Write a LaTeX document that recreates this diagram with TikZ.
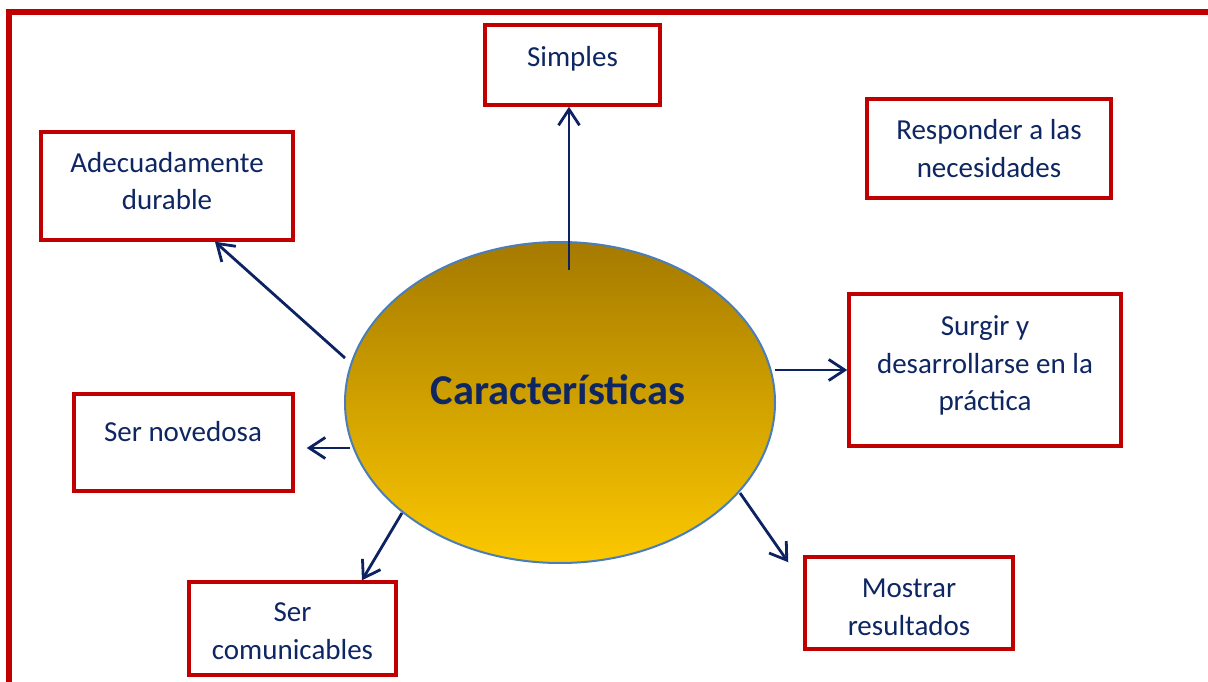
\documentclass[tikz,border=0pt]{standalone}
\usepackage{fontspec}
\setmainfont{Carlito}
\usetikzlibrary{shapes.geometric,arrows.meta,calc}
\definecolor{boxred}{RGB}{192,0,0}
\definecolor{navy}{RGB}{12,34,98}
\definecolor{txtblue}{RGB}{14,38,98}
\definecolor{goldtop}{RGB}{165,122,0}
\definecolor{goldbot}{RGB}{252,200,0}
\definecolor{ellborder}{RGB}{74,126,187}
\begin{document}
\begin{tikzpicture}[x=1pt,y=-1pt,
  box/.style={draw=boxred, line width=3.5pt, rectangle, inner sep=0pt},
  lbl/.style={text=txtblue, align=center, font=\fontsize{29}{37.5}\selectfont, inner sep=0pt},
  arr/.style={draw=navy, line width=2.8pt, -{Straight Barb[length=16pt,width=21pt]}}]
\useasboundingbox (0,0) rectangle (1208,682);
\fill[white] (0,0) rectangle (1208,682);
% outer frame
\draw[boxred, line width=6pt] (9,720) -- (9,12.5) -- (1240,12.5);

% boxes
\node[box, minimum width=175pt, minimum height=80pt]  (simples)  at (572.5,65) {};
\node[box, minimum width=252pt, minimum height=108pt] (adec)     at (167,186) {};
\node[box, minimum width=244pt, minimum height=99pt]  (resp)     at (989,148.5) {};
\node[box, minimum width=272pt, minimum height=152pt] (surgir)   at (985,370) {};
\node[box, minimum width=219pt, minimum height=97pt]  (novedosa) at (183.5,442.5) {};
\node[box, minimum width=208pt, minimum height=92pt]  (mostrar)  at (909,603) {};
\node[box, minimum width=207pt, minimum height=93pt]  (comun)    at (292.5,628.5) {};

% box texts
\node[lbl] (simplesT)  at (572.5,59)   {Simples};
\node[lbl] (adecT)     at (167,181)    {Adecuadamente\\durable};
\node[lbl] (respT)     at (989,148.5)  {Responder a las\\necesidades};
\node[lbl] (surgirT)   at (985,365.5)  {Surgir y\\desarrollarse en la\\práctica};
\node[lbl] (novedosaT) at (183,431.5)  {Ser novedosa};
\node[lbl] (mostrarT)  at (909,607.5)  {Mostrar\\resultados};
\node[lbl] (comunT)    at (292.5,631)  {Ser\\comunicables};

% central ellipse
\node[ellipse, draw=ellborder, line width=2pt, top color=goldtop, bottom color=goldbot,
      minimum width=430pt, minimum height=321pt, inner sep=0pt] (ell) at (560,402.5) {};
\node[text=txtblue, anchor=base, inner sep=0pt, font=\fontsize{42.5}{50}\selectfont\bfseries] (carT) at (558,404) {Características};

% connector start points
\coordinate (s1) at (569,270);
\coordinate (s2) at (345,358);
\coordinate (s3) at (350,448);
\coordinate (s4) at (402,513);
\coordinate (s5) at (775,370);
\coordinate (s6) at (740,493);

% connectors
\draw[arr] (s1) -- (s1 |- simples.south);
\draw[arr] (s2) -- ($(adec.south)+(48,0)$);
\draw[arr] (s3) -- ($(s3 -| novedosa.east)+(12,0)$);
\draw[arr] (s4) -- ($(comun.north)+(69.5,0)$);
\draw[arr] (s5) -- (s5 -| surgir.west);
\draw[arr] (s6) -- ($(mostrar.north west)+(-15,7)$);
\end{tikzpicture}
\end{document}
